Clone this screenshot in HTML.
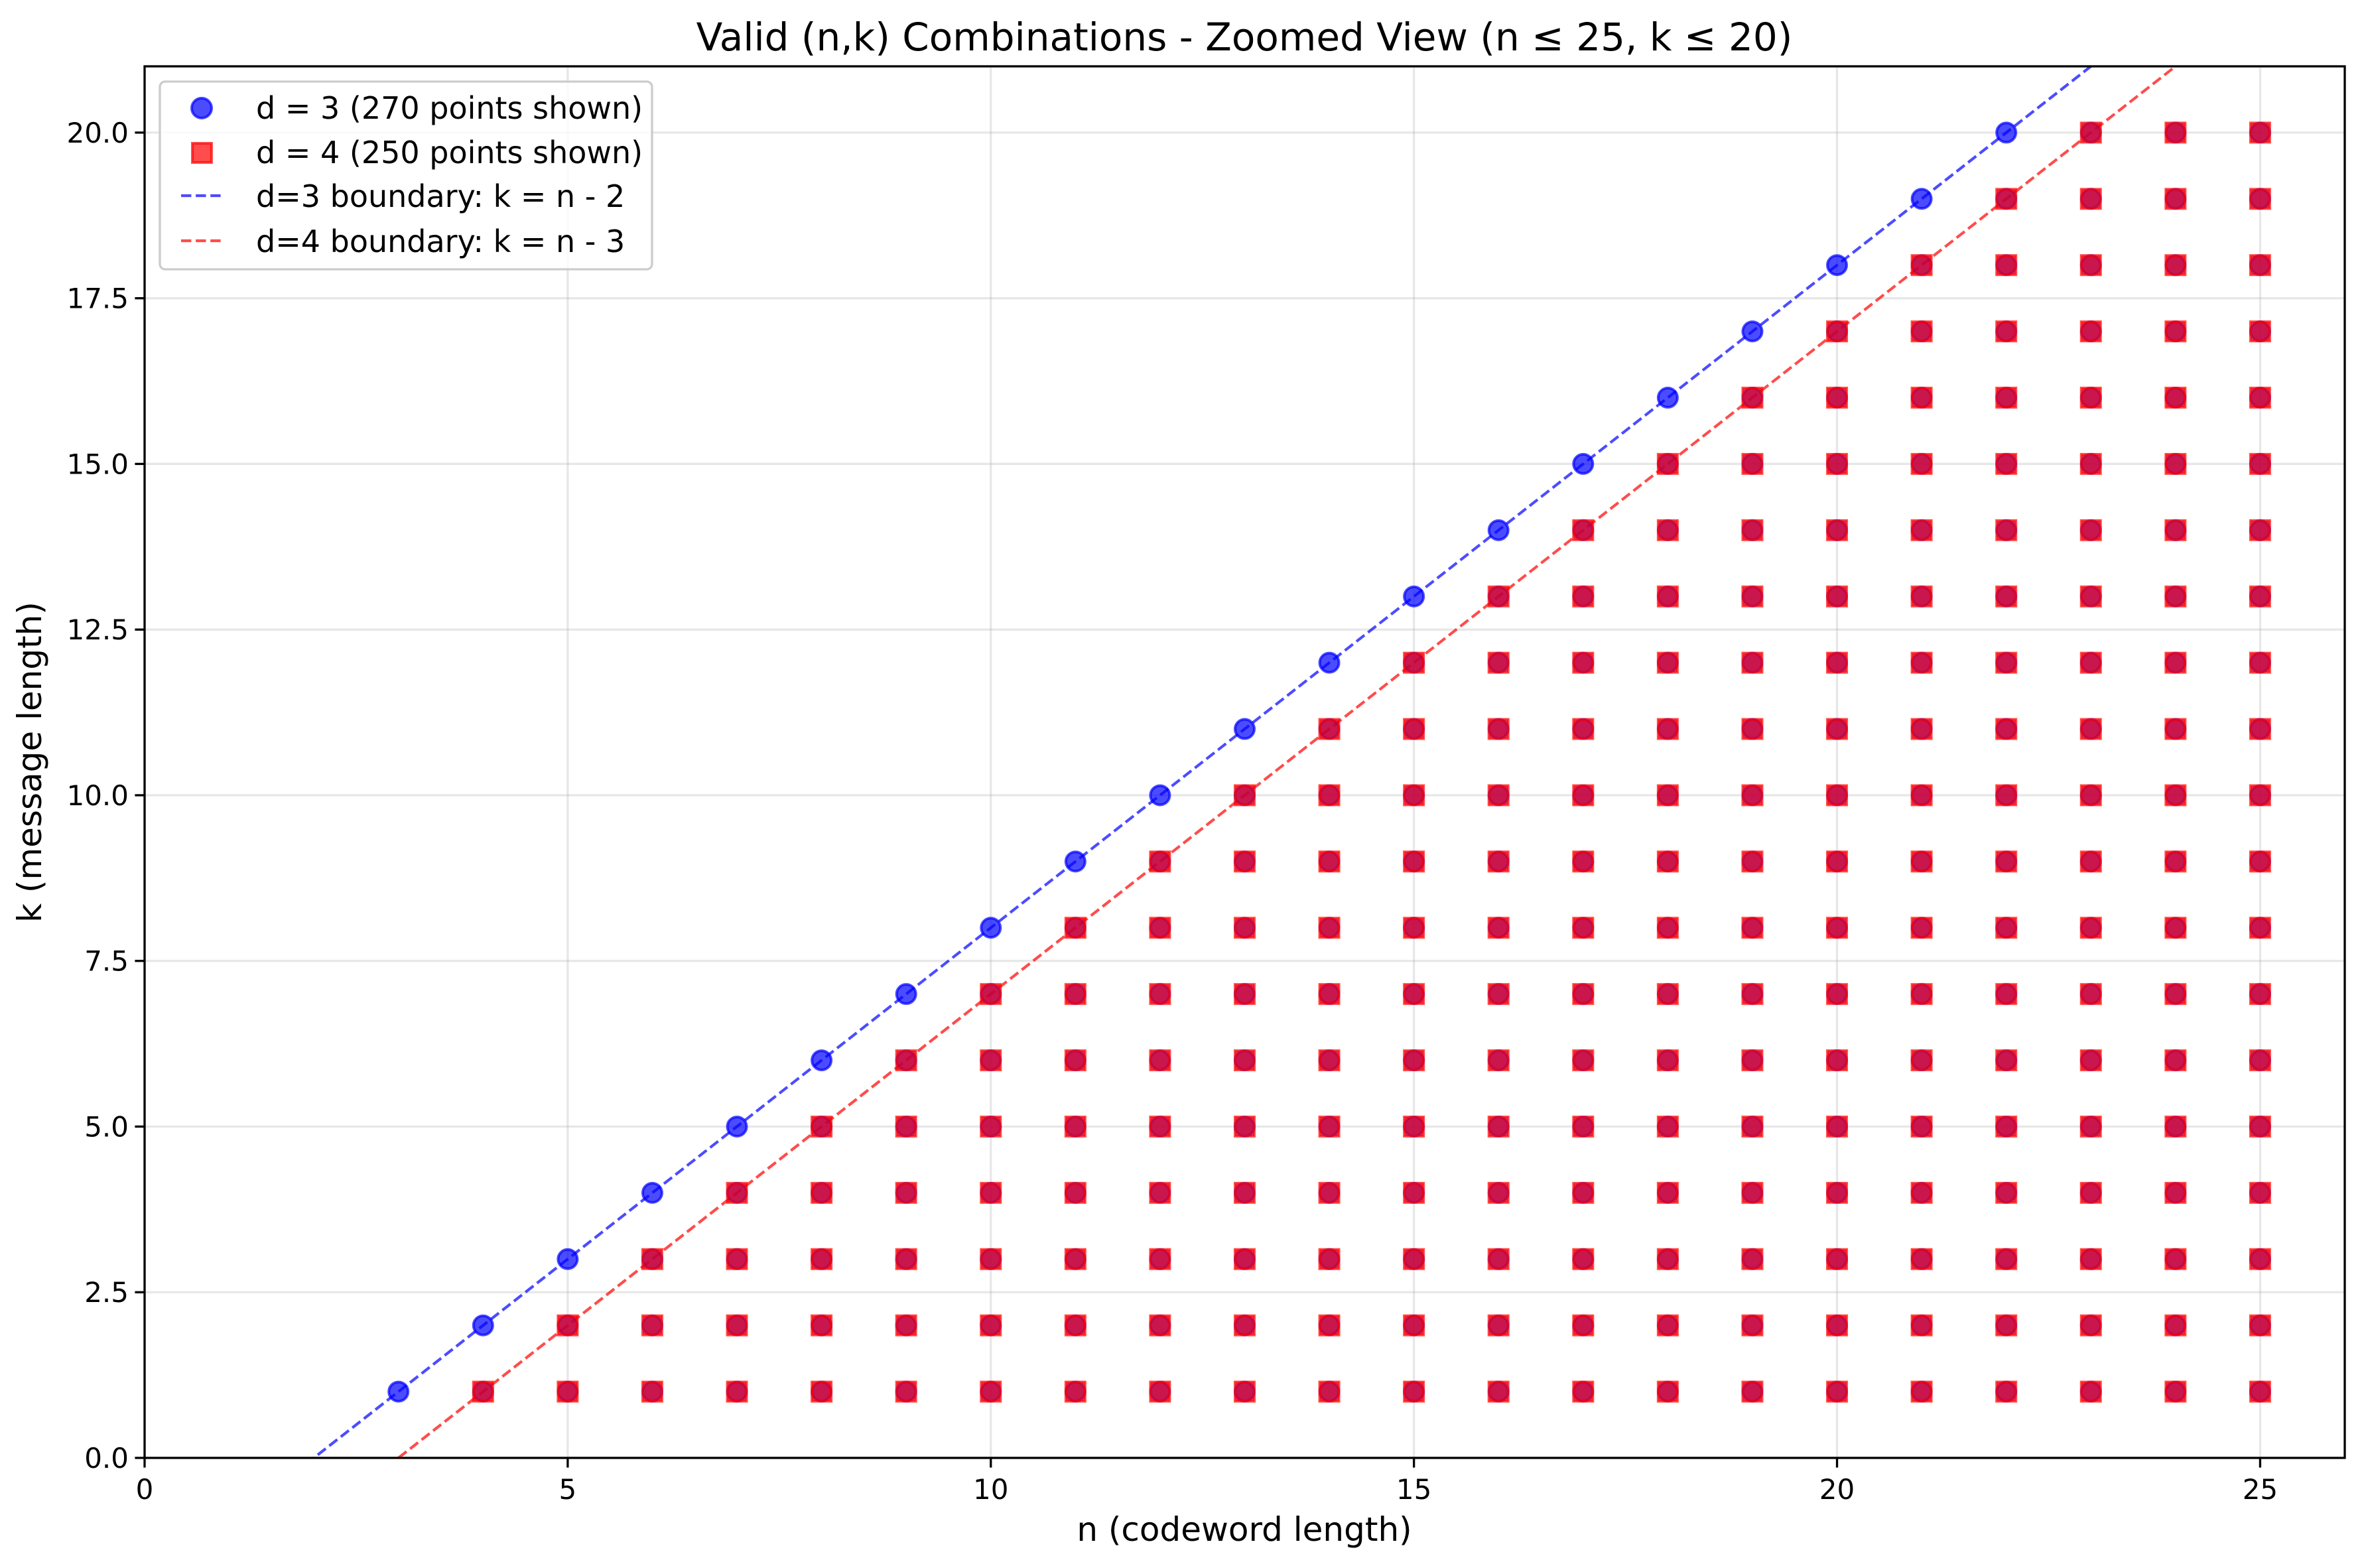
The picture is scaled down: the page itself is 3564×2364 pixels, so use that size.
<!DOCTYPE html>
<html><head><meta charset="utf-8"><style>
html,body{margin:0;padding:0;background:#fff;overflow:hidden;width:3564px;height:2364px}
svg{display:block;font-family:"DejaVu Sans","Liberation Sans",sans-serif}
</style></head><body>
<svg id="chart" width="3564" height="2364" viewBox="0 0 3564 2364" xmlns="http://www.w3.org/2000/svg">
<rect width="3564" height="2364" fill="#fff"/>
<defs><clipPath id="clip"><rect x="218" y="100" width="3317" height="2098"/></clipPath></defs>
<g id="grid"></g>
<g id="lines" clip-path="url(#clip)"></g>
<g id="d3pts"></g>
<g id="d4pts"></g>
<rect x="218" y="100" width="3317" height="2098" fill="none" stroke="#000" stroke-width="3.3"/>
<g id="ticks"></g>
<text x="1876" y="76" font-size="58" text-anchor="middle">Valid (n,k) Combinations - Zoomed View (n ≤ 25, k ≤ 20)</text>
<text x="1876" y="2323" font-size="50" text-anchor="middle">n (codeword length)</text>
<text transform="translate(62,1149) rotate(-90)" font-size="50" text-anchor="middle">k (message length)</text>
<g>
<rect x="241" y="123" width="742" height="283" rx="8" fill="#fff" fill-opacity="0.8" stroke="#ccc" stroke-width="3.3"/>
<g>
<ellipse cx="304" cy="163" rx="15" ry="15" fill="blue" fill-opacity="0.7" stroke="blue" stroke-opacity="0.7" stroke-width="4"/>
<text x="386" y="179" font-size="46">d = 3 (270 points shown)</text></g>
<g>
<rect x="290" y="216" width="29" height="29" fill="red" fill-opacity="0.7" stroke="red" stroke-opacity="0.7" stroke-width="4"/>
<text x="386" y="246" font-size="46">d = 4 (250 points shown)</text></g>
<g>
<line x1="273" y1="295" x2="335" y2="295" stroke="blue" stroke-opacity="0.7" stroke-width="4.2" stroke-dasharray="15.4 6.7"/>
<text x="386" y="312" font-size="46">d=3 boundary: k = n - 2</text></g>
<g>
<line x1="273" y1="363" x2="335" y2="363" stroke="red" stroke-opacity="0.7" stroke-width="4.2" stroke-dasharray="15.4 6.7"/>
<text x="386" y="380" font-size="46">d=4 boundary: k = n - 3</text></g>
</g>
</svg>
<script>
const xTicks = [0,5,10,15,20,25];
const yTicks = [0,2.5,5,7.5,10,12.5,15,17.5,20];
const yTickLabels = ["0.0","2.5","5.0","7.5","10.0","12.5","15.0","17.5","20.0"];
const d3N = [3,4,5,6,7,8,9,10,11,12,13,14,15,16,17,18,19,20,21,22,23,24,25];
const d3KMax = [1,2,3,4,5,6,7,8,9,10,11,12,13,14,15,16,17,18,19,20,20,20,20];
const d4N = [4,5,6,7,8,9,10,11,12,13,14,15,16,17,18,19,20,21,22,23,24,25];
const d4KMax = [1,2,3,4,5,6,7,8,9,10,11,12,13,14,15,16,17,18,19,20,20,20];
const boundaryOffsets = [2,3];
const xMin=0,xMax=26,yMin=0,yMax=21;
const L=218,R=3535,T=100,B=2198;
const sx=v=>L+(v-xMin)/(xMax-xMin)*(R-L);
const sy=v=>B-(v-yMin)/(yMax-yMin)*(B-T);
const NS="http://www.w3.org/2000/svg";
function mk(tag,attrs,parent){const e=document.createElementNS(NS,tag);for(const k in attrs)e.setAttribute(k,attrs[k]);parent.appendChild(e);return e;}
const grid=document.getElementById('grid'),ticks=document.getElementById('ticks');
xTicks.forEach(t=>{
  const g=mk('line',{x1:sx(t),x2:sx(t),y1:T,y2:B,stroke:'#b0b0b0','stroke-opacity':0.3,'stroke-width':3.3},grid);
  
  
  const tk=mk('line',{x1:sx(t),x2:sx(t),y1:B,y2:B+14.6,stroke:'#000','stroke-width':3.3},ticks);
  
  
  const tl=mk('text',{x:sx(t),y:B+62,'font-size':42,'text-anchor':'middle'},ticks);
  tl.textContent=String(t);
  
  
});
yTicks.forEach((t,i)=>{
  const g=mk('line',{x1:L,x2:R,y1:sy(t),y2:sy(t),stroke:'#b0b0b0','stroke-opacity':0.3,'stroke-width':3.3},grid);
  
  
  const tk=mk('line',{x1:L-14.6,x2:L,y1:sy(t),y2:sy(t),stroke:'#000','stroke-width':3.3},ticks);
  
  
  const tl=mk('text',{x:L-24,y:sy(t)+15,'font-size':42,'text-anchor':'end'},ticks);
  tl.textContent=yTickLabels[i];
  
  
});
const lines=document.getElementById('lines');
const lineColors=['blue','red'];
boundaryOffsets.forEach((o,i)=>{
  const ln=mk('line',{x1:sx(xMin),y1:sy(xMin-o),x2:sx(xMax),y2:sy(xMax-o),stroke:lineColors[i],'stroke-opacity':0.7,'stroke-width':4.2,'stroke-dasharray':'15.4 6.7'},lines);
  
  
});
const g3=document.getElementById('d3pts');
d3N.forEach((n,i)=>{for(let k=1;k<=d3KMax[i];k++){
  const c=mk('ellipse',{cx:sx(n),cy:sy(k),rx:14.5,ry:14.5,fill:'blue','fill-opacity':0.7,stroke:'blue','stroke-opacity':0.7,'stroke-width':4},g3);
  
  
}});
const g4=document.getElementById('d4pts');
d4N.forEach((n,i)=>{for(let k=1;k<=d4KMax[i];k++){
  const r=mk('rect',{x:sx(n)-14.5,y:sy(k)-14.5,width:29,height:29,fill:'red','fill-opacity':0.7,stroke:'red','stroke-opacity':0.7,'stroke-width':4},g4);
  
  
}});
</script>
</body></html>
